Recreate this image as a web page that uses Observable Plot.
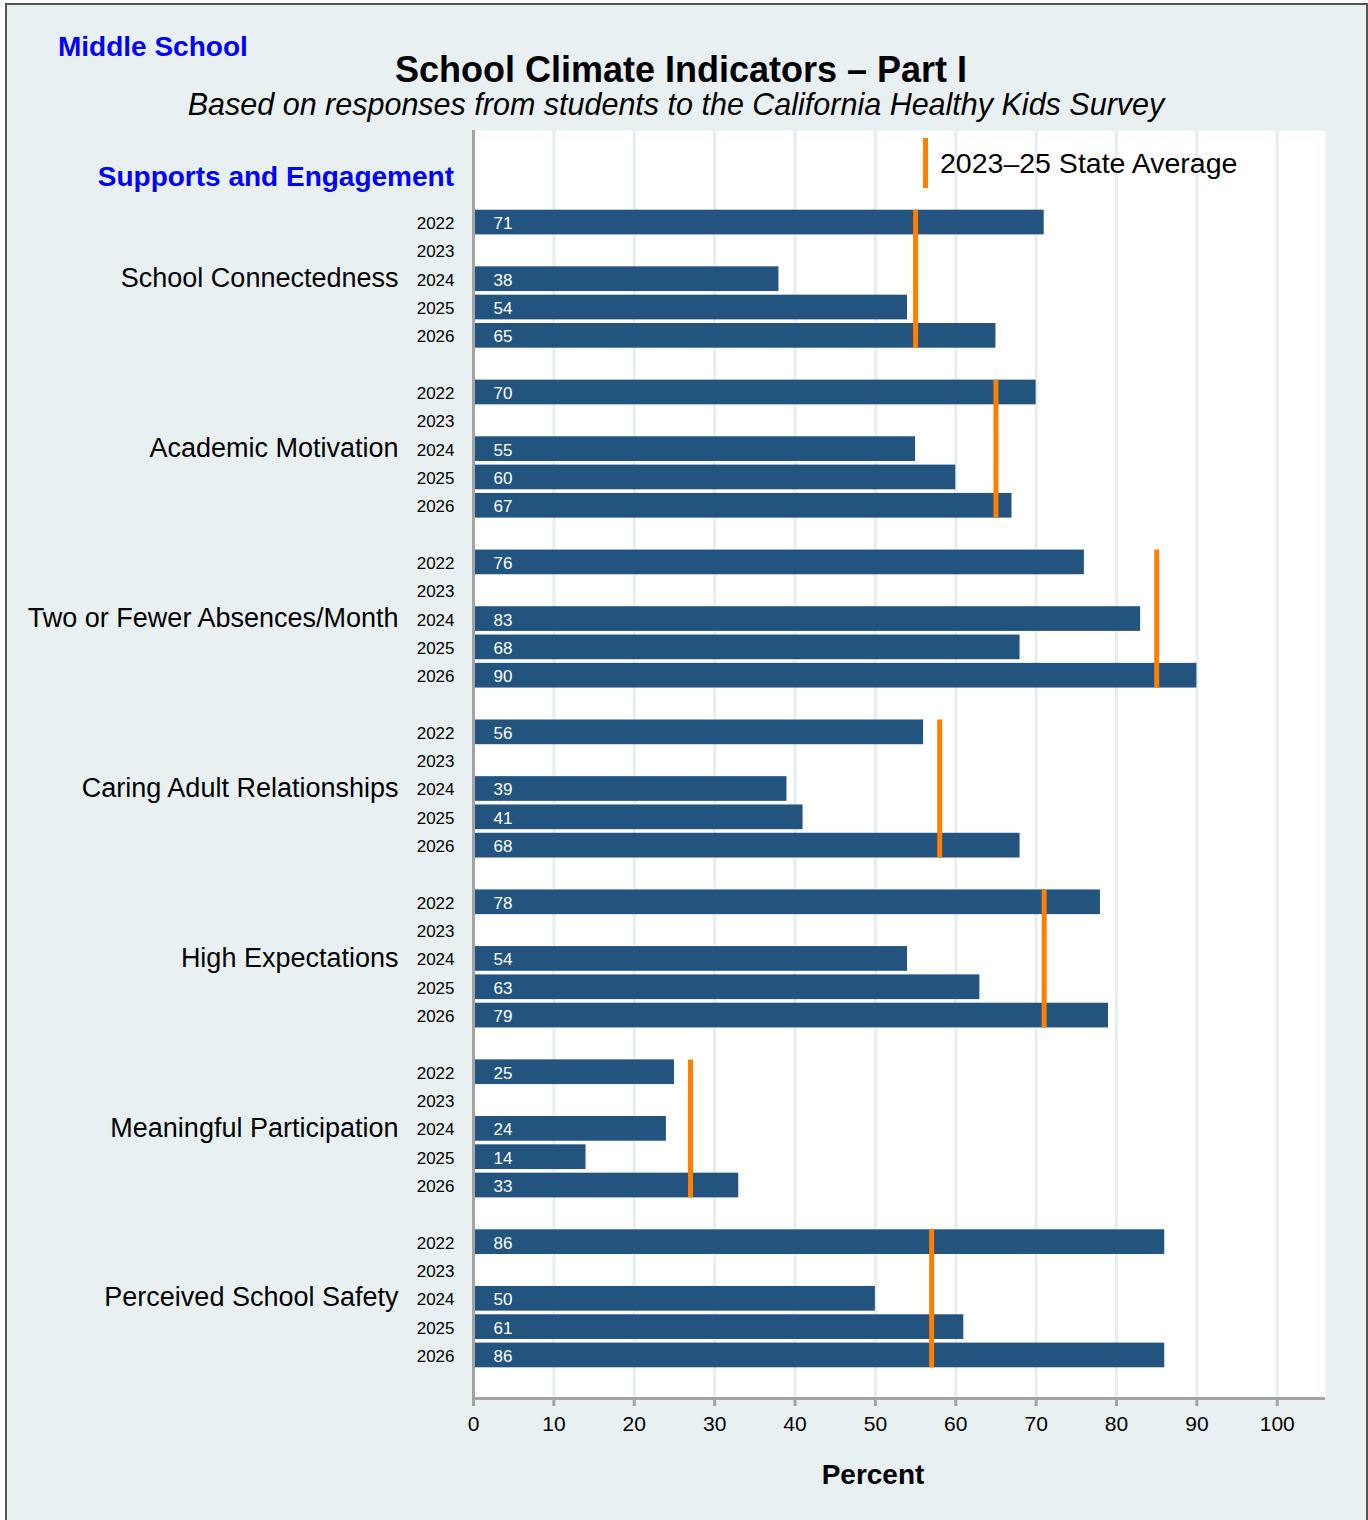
<!DOCTYPE html>
<html>
<head>
<meta charset="utf-8">
<script src="https://cdn.jsdelivr.net/npm/d3@7"></script>
<script src="https://cdn.jsdelivr.net/npm/@observablehq/plot@0.6"></script>
<style>
  html, body { margin: 0; padding: 0; background: #ffffff; overflow: hidden; }
  body { font-family: "Liberation Sans", Arial, Helvetica, sans-serif; }
  #page { position: relative; width: 1368px; height: 1520px; }
  #frame { position: absolute; left: 5px; top: 3px; width: 1359px; height: 1530px; border: 2px solid #555; background: #e9f0f2; }
  .t { position: absolute; line-height: 1; white-space: nowrap; }
  #chart { position: absolute; left: 0; top: 0; }
</style>
</head>
<body>
<div id="page">
  <div id="frame"></div>
  <div id="chart"></div>
  <div class="t" style="left:58px; top:33px; font-size:28px; font-weight:bold; color:#0000ff;">Middle School</div>
  <div class="t" style="left:681px; top:52px; font-size:36px; font-weight:bold; color:#000; transform:translateX(-50%);">School Climate Indicators – Part I</div>
  <div class="t" style="left:676px; top:89px; font-size:30.5px; font-style:italic; color:#000; transform:translateX(-50%);">Based on responses from students to the California Healthy Kids Survey</div>
  <div class="t" style="right:914px; top:163px; font-size:28px; font-weight:bold; color:#0000ff;">Supports and Engagement</div>
  <div style="position:absolute; left:923px; top:138px; width:5px; height:50px; background:#ff7f00;"></div>
  <div class="t" style="left:940px; top:149px; font-size:28.5px; color:#000;">2023–25 State Average</div>
  <div class="t" style="left:873px; top:1461px; font-size:28px; font-weight:bold; color:#000; transform:translateX(-50%);">Percent</div>
</div>
<script>
// ---- data ----
const groups = ["School Connectedness", "Academic Motivation", "Two or Fewer Absences/Month",
  "Caring Adult Relationships", "High Expectations", "Meaningful Participation", "Perceived School Safety"];
const years = ["2022", "2023", "2024", "2025", "2026"];
const schoolConnectedness = [71, null, 38, 54, 65];
const academicMotivation = [70, null, 55, 60, 67];
const twoOrFewerAbsences = [76, null, 83, 68, 90];
const caringAdult = [56, null, 39, 41, 68];
const highExpectations = [78, null, 54, 63, 79];
const meaningfulParticipation = [25, null, 24, 14, 33];
const perceivedSafety = [86, null, 50, 61, 86];
const stateAverage = [55, 65, 85, 58, 71, 27, 57];
const xTicks = [0, 10, 20, 30, 40, 50, 60, 70, 80, 90, 100];

const seriesValues = [schoolConnectedness, academicMotivation, twoOrFewerAbsences,
  caringAdult, highExpectations, meaningfulParticipation, perceivedSafety];

// ---- build rows ----
const rowsPerGroup = years.length + 1; // one blank row between groups
const rows = [];
groups.forEach((g, gi) => {
  years.forEach((yr, yi) => {
    rows.push({group: g, year: yr, row: gi * rowsPerGroup + yi, value: seriesValues[gi][yi]});
  });
});
const bars = rows.filter(d => d.value != null);
const avgs = groups.map((g, gi) => ({group: g, avg: stateAverage[gi], r1: gi * rowsPerGroup, r2: gi * rowsPerGroup + years.length - 1}));
const groupLabels = groups.map((g, gi) => ({group: g, row: gi * rowsPerGroup + 2}));
const yearByRow = new Map(rows.map(d => [d.row, d.year]));

const half = 0.436;
const W = 1368, H = 1520;
const mL = 473, mR = 43, mT = 130, mB = 122;

const chart = Plot.plot({
  width: W,
  height: H,
  marginLeft: mL,
  marginRight: mR,
  marginTop: mT,
  marginBottom: mB,
  style: {background: "transparent", fontFamily: "Liberation Sans, Arial, sans-serif", color: "#000"},
  x: {domain: [0, 106]},
  y: {domain: [-3.25, 41.52], reverse: true},
  marks: [
    Plot.frame({fill: "white", stroke: null}),
    Plot.ruleX(xTicks.filter(d => d > 0), {stroke: "#e6eef1", strokeWidth: 3}),
    Plot.rect(bars, {x1: 0, x2: "value", y1: d => d.row - half, y2: d => d.row + half, fill: "#22547f"}),
    Plot.text(bars, {x: 0, y: "row", text: d => String(d.value), dx: 20, dy: 1, textAnchor: "start", fill: "white", fontSize: 17}),
    Plot.ruleX(avgs, {x: "avg", y1: d => d.r1 - half, y2: d => d.r2 + half, stroke: "#ff7f00", strokeWidth: 5}),
    Plot.ruleX([0], {stroke: "#a3a3a3", strokeWidth: 3}),
    Plot.ruleY([41.52], {x1: 0, x2: 106, stroke: "#a3a3a3", strokeWidth: 3}),
    Plot.axisX({ticks: xTicks, tickSize: 8, stroke: "#a3a3a3", strokeWidth: 3, tickPadding: 10, fontSize: 21, label: null}),
    Plot.axisY({ticks: rows.map(d => d.row), tickFormat: r => yearByRow.get(r), tickSize: 0, tickPadding: 19, fontSize: 17, dy: 1, label: null}),
    Plot.text(groupLabels, {x: 0, y: "row", text: "group", dx: -75, dy: -1, textAnchor: "end", fontSize: 27, fill: "black"})
  ]
});
document.getElementById("chart").appendChild(chart);
</script>
</body>
</html>
